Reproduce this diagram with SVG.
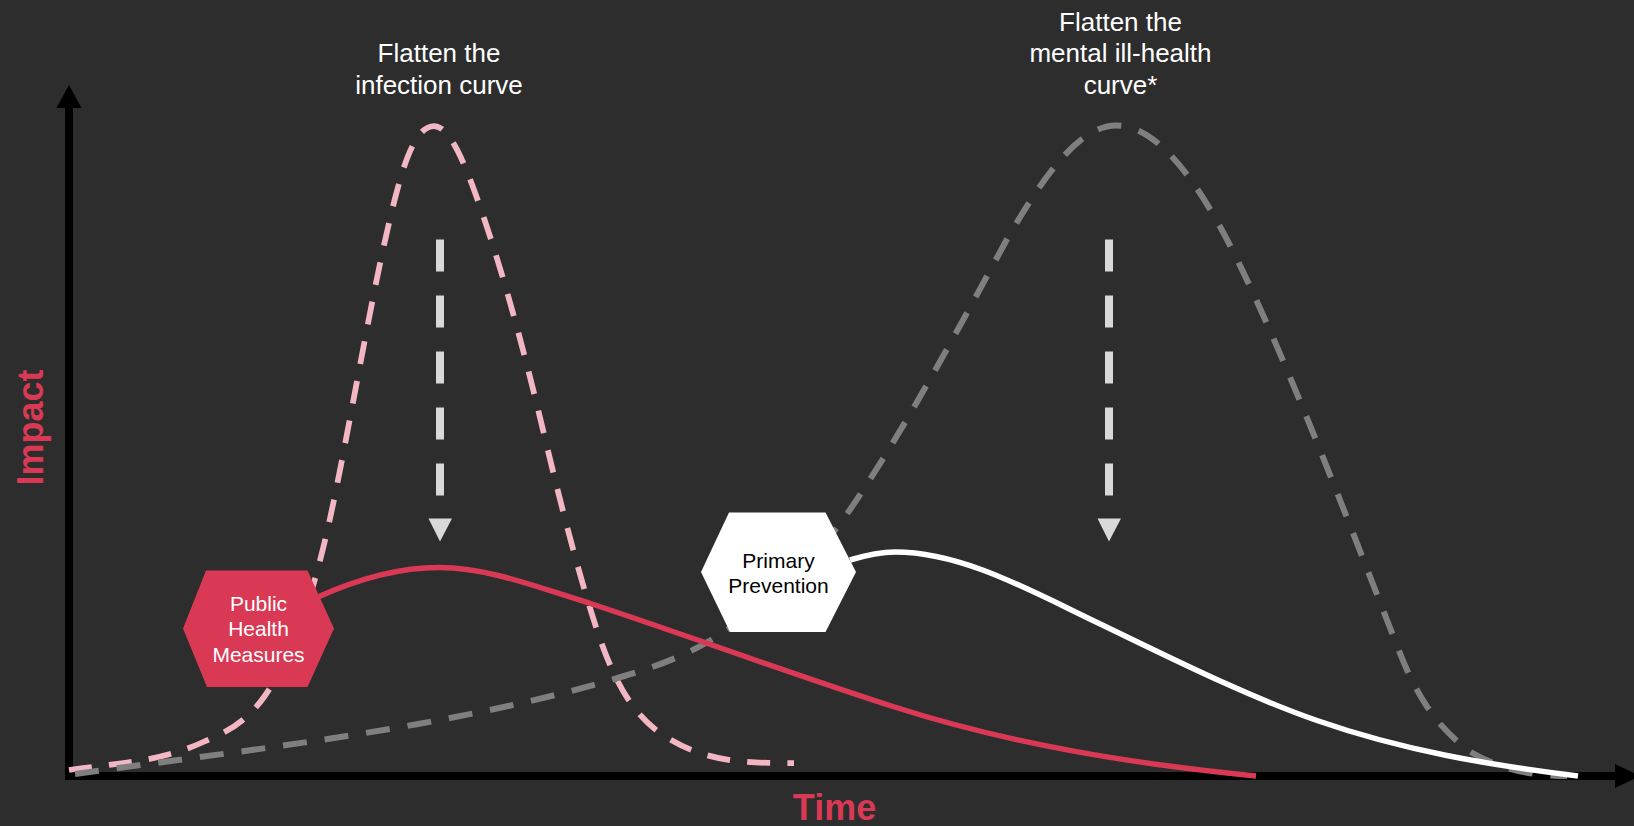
<svg xmlns="http://www.w3.org/2000/svg" width="1634" height="826" viewBox="0 0 1634 826">
<style>
.bg{fill:#2d2d2d}
.axis{stroke:#000;stroke-width:8;fill:none}
.axhead{fill:#000}
.pink{fill:none;stroke:#f2b7c3;stroke-width:5.75;stroke-dasharray:23 17.25}
.grey{fill:none;stroke:#7f7f7f;stroke-width:6;stroke-dasharray:24 18}
.red{fill:none;stroke:#d93954;stroke-width:5.5;stroke-linecap:butt}
.white{fill:none;stroke:#ffffff;stroke-width:5.5}
.down{stroke:#d9d9d9;stroke-width:8;stroke-dasharray:32 24;fill:none}
.downhead{fill:#d9d9d9}
.title{font-family:"Liberation Sans",Arial,sans-serif;font-size:26px;fill:#ffffff;text-anchor:middle}
.axlabel{font-family:"Liberation Sans",Arial,sans-serif;font-size:36px;font-weight:bold;fill:#d93954;text-anchor:middle}
.hextext{font-family:"Liberation Sans",Arial,sans-serif;font-size:21px;text-anchor:middle}
</style>
<rect class="bg" x="0" y="0" width="1634" height="826"/>
<g id="axes">
  <line class="axis" x1="69" y1="780" x2="69" y2="106"/>
  <polygon class="axhead" points="56.5,108 81.5,108 69,85"/>
  <line class="axis" x1="65" y1="776" x2="1617" y2="776"/>
  <polygon class="axhead" points="1615,764 1615,788 1640,776"/>
  <text class="axlabel" transform="translate(42.5,427.5) rotate(-90)">Impact</text>
  <text class="axlabel" x="834.5" y="820">Time</text>
</g>
<g id="connectors">
  <path id="infection-curve" class="pink" d="M69,770 C113,763.4 157,762.8 201,743 C222,733.55 243,726.4 264,697 C287.67,663.9 311.33,611 335,495 C356.67,388.8 378.33,255.8 400,180 C411.33,140.3 422.67,126 434,126 C447,126 460,151.9 473,187 C496.33,250 519.67,332 543,430 C561.33,507 579.67,578 598,633 C618.67,695 639.33,717.7 660,733 C704.67,764 749.33,763 794,763"/>
  <path id="mental-curve" class="grey" d="M75,774 C189.3,758 303.7,744.6 418,724 C485.67,711.8 553.3,697.3 621,677 C651,668 681,658 711,640 C756.33,612.8 801.67,577.5 847,514 C900,437.15 953,339 1006,241 C1042.67,176.8 1079.33,125.5 1116,125.5 C1158.33,125.5 1200.67,182.7 1243,271.6 C1295.17,381.2 1347.33,519 1399.5,652 C1422.67,711 1445.83,732.5 1469,751 C1501.67,770.6 1534.33,776 1567,776"/>
  <path id="public-health-curve" class="red" d="M318,597 C358.33,578.8 398.67,567.5 439,567.5 C489,567.5 539,588 589,603 C690.9,636.6 792.7,674.4 894.6,707 C1014.7,745.4 1134.9,764 1256,776"/>
  <path id="prevention-curve" class="white" d="M850,560 C865,555.5 880,552 895,552 C961.33,552 1027.67,589.2 1094,621 C1168.33,656.7 1242.67,694.5 1317,720.5 C1403.33,750.7 1489.67,765.1 1578,776"/>
  <g id="arrow-infection">
    <line class="down" x1="440" y1="239.5" x2="440" y2="495.5"/>
    <polygon class="downhead" points="428.5,518.5 452,518.5 440,541.5"/>
  </g>
  <g id="arrow-mental">
    <line class="down" x1="1109" y1="239.5" x2="1109" y2="495.5"/>
    <polygon class="downhead" points="1097.5,518.5 1121,518.5 1109,541.5"/>
  </g>
</g>
<g id="node-public-health">
  <polygon fill="#d93954" points="206,570.5 307.5,570.5 334,628.5 307.5,687 207,687 183,628.5"/>
  <text class="hextext" fill="#ffffff" x="258.5" y="610.5">Public</text>
  <text class="hextext" fill="#ffffff" x="258.5" y="636">Health</text>
  <text class="hextext" fill="#ffffff" x="258.5" y="661.5">Measures</text>
</g>
<g id="node-primary-prevention">
  <polygon fill="#ffffff" points="729,512.5 825.5,512.5 856,572 825.5,632 730,632 701,572"/>
  <text class="hextext" fill="#000000" x="778.5" y="568">Primary</text>
  <text class="hextext" fill="#000000" x="778.5" y="593">Prevention</text>
</g>
<g id="label-infection">
  <text class="title" x="439" y="62">Flatten the</text>
  <text class="title" x="439" y="93.5">infection curve</text>
</g>
<g id="label-mental">
  <text class="title" x="1120.5" y="30.5">Flatten the</text>
  <text class="title" x="1120.5" y="62">mental ill-health</text>
  <text class="title" x="1120.5" y="93.5">curve*</text>
</g>
</svg>
